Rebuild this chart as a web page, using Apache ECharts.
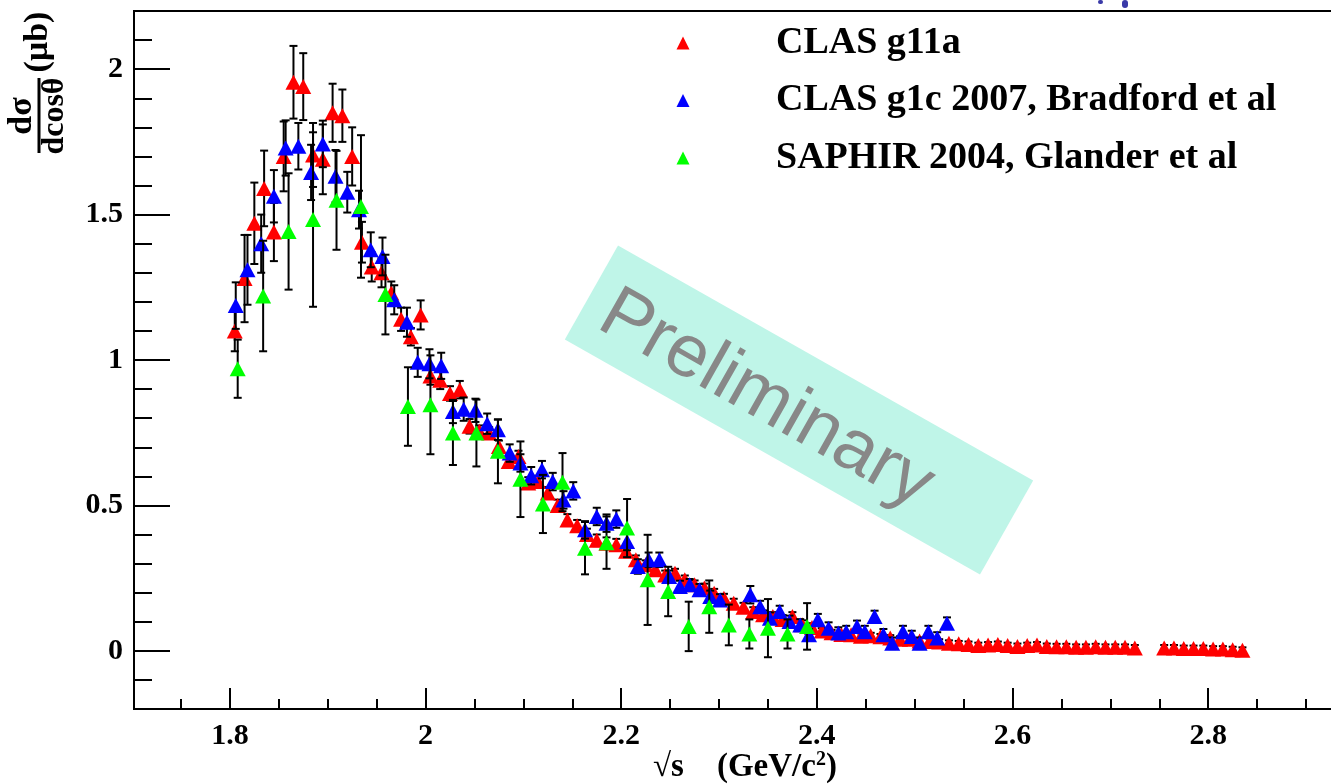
<!DOCTYPE html>
<html><head><meta charset="utf-8">
<script src="https://cdn.jsdelivr.net/npm/echarts@6/dist/echarts.min.js"></script>
<style>html,body{margin:0;padding:0;background:#fff}#c{width:1331px;height:784px}</style>
</head><body><div id="c"></div>
<script>
// ---------------- data ----------------
const redName = 'CLAS g11a';
const blueName = 'CLAS g1c 2007, Bradford et al';
const greenName = 'SAPHIR 2004, Glander et al';

const redX = [1.805,1.815,1.825,1.835,1.845,1.855,1.865,1.875,1.885,1.895,1.905,1.915,1.925,1.935,1.945,1.955,1.965,1.975,1.985,1.995,
  2.005,2.015,2.025,2.035,2.045,2.055,2.065,2.075,2.085,2.095,2.105,2.115,2.125,2.135,2.145,2.155,2.165,2.175,2.185,2.195,
  2.205,2.215,2.225,2.235,2.245,2.255,2.265,2.275,2.285,2.295,2.305,2.315,2.325,2.335,2.345,2.355,2.365,2.375,2.385,2.395,
  2.405,2.415,2.425,2.435,2.445,2.455,2.465,2.475,2.485,2.495,2.505,2.515,2.525,2.535,2.545,2.555,2.565,2.575,2.585,2.595,
  2.605,2.615,2.625,2.635,2.645,2.655,2.665,2.675,2.685,2.695,2.705,2.715,2.725,
  2.755,2.765,2.775,2.785,2.795,2.805,2.815,2.825,2.835];
const redY = [1.10,1.28,1.47,1.59,1.44,1.70,1.955,1.94,1.705,1.69,1.85,1.84,1.70,1.405,1.32,1.30,1.23,1.14,1.08,1.155,
  0.945,0.93,0.885,0.898,0.772,0.755,0.749,0.703,0.651,0.668,0.577,0.582,0.543,0.50,0.45,0.43,0.40,0.38,0.37,0.365,
  0.342,0.313,0.296,0.279,0.261,0.267,0.244,0.227,0.216,0.198,0.181,0.164,0.15,0.135,0.124,0.118,0.108,0.118,0.09,0.08,
  0.068,0.062,0.056,0.055,0.05,0.052,0.048,0.044,0.04,0.04,0.034,0.032,0.03,0.026,0.024,0.022,0.018,0.02,0.022,0.018,
  0.015,0.018,0.02,0.015,0.014,0.014,0.012,0.012,0.014,0.012,0.012,0.012,0.01,
  0.01,0.01,0.008,0.008,0.008,0.006,0.006,0.004,0.002];
const redErr = [0.07,0.15,0.14,0.13,0.10,0.12,0.125,0.115,0.11,0.12,0.10,0.09,0.10,0.07,0.05,0.05,0.04,0.04,0.03,0.05,
  0.03,0.03,0.025,0.03,0.025,0.02,0.02,0.02,0.02,0.02,0.02,0.02,0.02,0.02,0.02,0.02,0.02,0.02,0.02,0.02,
  0.015,0.015,0.015,0.015,0.015,0.015,0.015,0.015,0.015,0.015,0.015,0.015,0.015,0.015,0.015,0.015,0.015,0.015,0.015,0.015,
  0.01,0.01,0.01,0.01,0.01,0.01,0.01,0.01,0.01,0.01,0.01,0.01,0.01,0.01,0.01,0.01,0.01,0.01,0.01,0.01,
  0.01,0.01,0.01,0.01,0.01,0.01,0.01,0.01,0.01,0.01,0.01,0.01,0.01,
  0.01,0.01,0.01,0.01,0.01,0.01,0.01,0.01,0.01];

const blueX = [1.806,1.818,1.832,1.845,1.857,1.870,1.883,1.895,1.908,1.920,1.932,1.944,1.956,1.968,1.981,1.992,2.004,2.016,
  2.028,2.039,2.051,2.063,2.074,2.086,2.097,2.108,2.119,2.130,2.141,2.151,2.163,2.175,2.185,2.195,2.206,2.217,2.228,2.239,
  2.249,2.260,2.270,2.280,2.291,2.301,2.332,2.342,2.352,2.362,2.372,2.383,2.392,2.401,2.412,2.422,2.430,2.441,2.449,2.459,
  2.468,2.477,2.488,2.497,2.505,2.514,2.523,2.533];
const blueY = [1.187,1.31,1.40,1.563,1.729,1.735,1.645,1.743,1.632,1.577,1.517,1.379,1.356,1.207,1.13,0.992,0.987,0.98,
  0.823,0.831,0.827,0.781,0.76,0.68,0.646,0.602,0.623,0.582,0.519,0.55,0.416,0.462,0.439,0.453,0.376,0.29,0.313,0.313,
  0.256,0.221,0.227,0.21,0.187,0.175,0.193,0.152,0.112,0.135,0.101,0.089,0.055,0.107,0.078,0.061,0.066,0.084,0.066,0.118,
  0.055,0.026,0.066,0.049,0.026,0.066,0.044,0.095];
const blueErr = [0.08,0.12,0.10,0.09,0.095,0.08,0.095,0.08,0.09,0.07,0.065,0.06,0.065,0.05,0.05,0.05,0.05,0.045,
  0.04,0.04,0.04,0.035,0.035,0.03,0.03,0.03,0.03,0.03,0.03,0.03,0.03,0.03,0.03,0.03,0.03,0.025,0.025,0.025,
  0.02,0.02,0.02,0.02,0.02,0.02,0.03,0.02,0.02,0.02,0.02,0.02,0.02,0.02,0.02,0.02,0.02,0.02,0.02,0.02,
  0.02,0.02,0.02,0.02,0.02,0.02,0.02,0.02];

const greenX = [1.808,1.834,1.860,1.885,1.909,1.934,1.959,1.982,2.005,2.028,2.052,2.074,2.097,2.120,2.140,2.163,2.185,2.206,
  2.227,2.248,2.269,2.290,2.310,2.331,2.350,2.370,2.390];
const greenY = [0.97,1.22,1.442,1.483,1.549,1.528,1.225,0.84,0.846,0.749,0.749,0.686,0.59,0.505,0.58,0.353,0.372,0.422,
  0.244,0.204,0.084,0.152,0.089,0.058,0.078,0.058,0.084];
const greenErr = [0.10,0.19,0.20,0.30,0.17,0.245,0.137,0.135,0.17,0.11,0.115,0.11,0.13,0.10,0.10,0.09,0.09,0.10,
  0.155,0.085,0.085,0.09,0.07,0.05,0.10,0.05,0.08];

const xMajor = [1.8,2,2.2,2.4,2.6,2.8];
const xMinor = [1.75,1.8,1.85,1.9,1.95,2,2.05,2.1,2.15,2.2,2.25,2.3,2.35,2.4,2.45,2.5,2.55,2.6,2.65,2.7,2.75,2.8,2.85,2.9];
const yMajor = [0,0.5,1,1.5,2];
const yMinor = [-0.1,0,0.1,0.2,0.3,0.4,0.5,0.6,0.7,0.8,0.9,1,1.1,1.2,1.3,1.4,1.5,1.6,1.7,1.8,1.9,2,2.1];

// ---------------- chart ----------------
const SERIF = '"Liberation Serif","Times New Roman",serif';
function zip3(a,b,c){ return a.map((v,i)=>[v,b[i],c[i]]); }
function errSeries(name, x, y, e, z){
  return {
    type:'custom', name:name, xAxisIndex:0, yAxisIndex:0, z:z, silent:true,
    data: zip3(x,y,e),
    renderItem: function(params, api){
      const xv = api.value(0), yv = api.value(1), ev = api.value(2);
      const top = api.coord([xv, yv+ev]);
      const bot = api.coord([xv, yv-ev]);
      const st = {stroke:'#000', lineWidth:2};
      return {type:'group', children:[
        {type:'line', shape:{x1:top[0],y1:top[1],x2:bot[0],y2:bot[1]}, style:st},
        {type:'line', shape:{x1:top[0]-4,y1:top[1],x2:top[0]+4,y2:top[1]}, style:st},
        {type:'line', shape:{x1:bot[0]-4,y1:bot[1],x2:bot[0]+4,y2:bot[1]}, style:st}
      ]};
    }
  };
}
function ptSeries(name, x, y, color, z){
  return {
    type:'scatter', name:name, xAxisIndex:0, yAxisIndex:0, z:z,
    symbol:'triangle', symbolSize:[16,15],
    itemStyle:{color:color, opacity:1},
    data: x.map((v,i)=>[v,y[i]])
  };
}

const chart = echarts.init(document.getElementById('c'), null, {renderer:'canvas'});
const axisCommon = {type:'value', min:1.702, max:2.952, position:'bottom', splitLine:{show:false}};
chart.setOption({
  animation:false,
  backgroundColor:'#fff',
  grid:{left:134, top:11, width:1222.9, height:698, outerBoundsMode:'none', containLabel:false,
    show:true, borderColor:'#000', borderWidth:2, backgroundColor:'transparent'},
  xAxis:[
    Object.assign({}, axisCommon, {
      axisLine:{show:true, onZero:false, lineStyle:{color:'#000', width:2}},
      axisTick:{show:true, inside:true, length:21, customValues:xMajor, lineStyle:{color:'#000', width:2}},
      axisLabel:{show:true, customValues:xMajor, margin:12, color:'#000', fontFamily:SERIF, fontWeight:'bold', fontSize:30}
    }),
    Object.assign({}, axisCommon, {
      axisLine:{show:false, onZero:false},
      axisTick:{show:true, inside:true, length:10, customValues:xMinor, lineStyle:{color:'#000', width:2}},
      axisLabel:{show:false}
    })
  ],
  yAxis:[
    {type:'value', min:-0.2, max:2.2, position:'left', splitLine:{show:false},
      axisLine:{show:true, onZero:false, lineStyle:{color:'#000', width:2}},
      axisTick:{show:true, inside:true, length:36, customValues:yMajor, lineStyle:{color:'#000', width:2}},
      axisLabel:{show:true, customValues:yMajor, margin:11, color:'#000', fontFamily:SERIF, fontWeight:'bold', fontSize:30}
    },
    {type:'value', min:-0.2, max:2.2, position:'left', splitLine:{show:false},
      axisLine:{show:false, onZero:false},
      axisTick:{show:true, inside:true, length:18, customValues:yMinor, lineStyle:{color:'#000', width:2}},
      axisLabel:{show:false}
    }
  ],
  legend:{
    orient:'vertical', left:676.5, top:24, padding:0, itemGap:19.5,
    itemWidth:13, itemHeight:13, icon:'triangle',
    data:[redName, blueName, greenName],
    formatter: function(n){ return '{g| }{t|' + n + '}'; },
    textStyle:{ rich:{
      g:{width:81.5, fontSize:10},
      t:{fontFamily:SERIF, fontWeight:'bold', fontSize:38, color:'#000', lineHeight:44}
    }}
  },
  graphic:[
    {type:'rect', x:799, y:410, rotation:-29.5*Math.PI/180, z:-1,
      shape:{x:-238.5, y:-54, width:477, height:108}, style:{fill:'#bff5e8'}},
    {type:'text', x:766, y:400, rotation:-29.5*Math.PI/180, z:0,
      style:{text:'Preliminary', fill:'#888888', font:'74px "Liberation Sans", Arial, sans-serif', textAlign:'center', textVerticalAlign:'middle'}},
    {type:'text', x:22, y:116, rotation:Math.PI/2,
      style:{text:'dσ', fill:'#000', font:'bold 34px '+SERIF, textAlign:'center', textVerticalAlign:'middle'}},
    {type:'line', shape:{x1:39, y1:78, x2:39, y2:153}, style:{stroke:'#000', lineWidth:3}},
    {type:'text', x:55, y:116, rotation:Math.PI/2,
      style:{text:'dcosθ', fill:'#000', font:'bold 32px '+SERIF, textAlign:'center', textVerticalAlign:'middle'}},
    {type:'text', x:38, y:42, rotation:Math.PI/2,
      style:{text:'(μb)', fill:'#000', font:'bold 34px '+SERIF, textAlign:'center', textVerticalAlign:'middle'}},
    {type:'text', x:653, y:767,
      style:{text:'{a|√s}{a|    (GeV/c}{s|2}{a|)}', textAlign:'left', textVerticalAlign:'middle',
        rich:{a:{fontFamily:SERIF, fontWeight:'bold', fontSize:33, color:'#000'},
              s:{fontFamily:SERIF, fontWeight:'bold', fontSize:20, color:'#000', verticalAlign:'top', padding:[0,0,14,0]}}}},
    {type:'rect', shape:{x:1098, y:0, width:5, height:4, r:2}, style:{fill:'#3a3aa8'}},
    {type:'rect', shape:{x:1122, y:0, width:6, height:8, r:3}, style:{fill:'#3a3aa8'}}
  ],
  series:[
    errSeries('redErr', redX, redY, redErr, 2),
    ptSeries(redName, redX, redY, '#ff0000', 3),
    errSeries('blueErr', blueX, blueY, blueErr, 4),
    ptSeries(blueName, blueX, blueY, '#0000ff', 5),
    errSeries('greenErr', greenX, greenY, greenErr, 6),
    ptSeries(greenName, greenX, greenY, '#00ff00', 7)
  ]
});
</script>
</body></html>
